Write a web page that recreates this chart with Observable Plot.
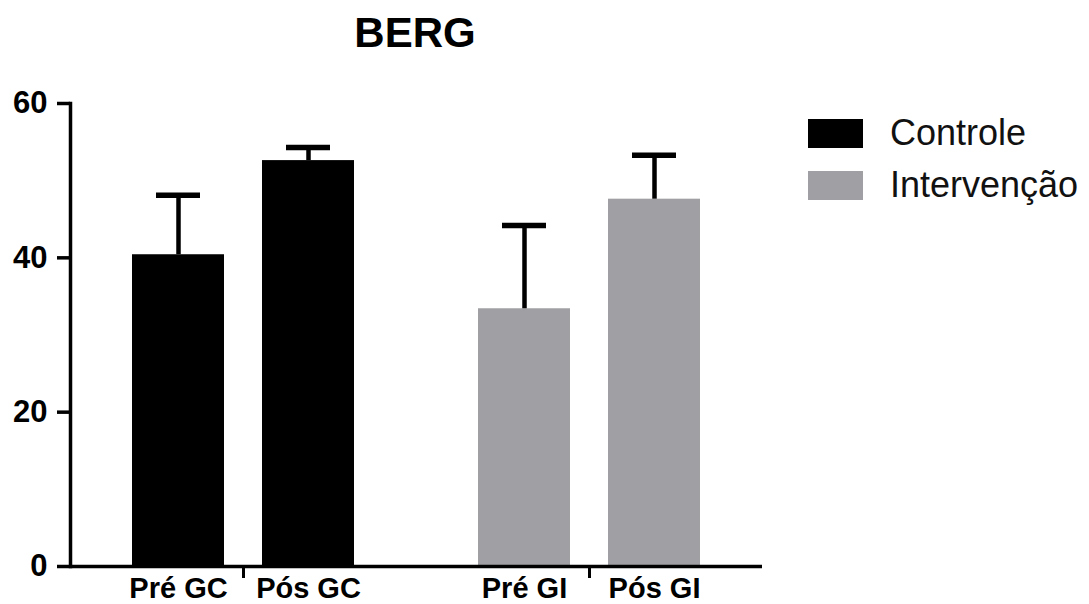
<!DOCTYPE html>
<html><head><meta charset="utf-8">
<script src="https://cdn.jsdelivr.net/npm/d3@7"></script>
<script src="https://cdn.jsdelivr.net/npm/@observablehq/plot@0.6"></script>
<style>
body{margin:0;background:#fff;font-family:"Liberation Sans",Arial,sans-serif;}
#wrap{position:relative;width:1089px;height:604px;overflow:hidden;background:#fff;}
#chart{position:absolute;left:0;top:0;}
#title{position:absolute;left:0;top:12px;width:830px;text-align:center;font-weight:bold;font-size:42px;line-height:42px;color:#000;}
.leg{position:absolute;left:808px;height:36px;display:flex;align-items:center;font-size:36px;line-height:36px;color:#111;}
.sw{width:55px;height:29px;margin-right:27px;}
</style>
</head><body>
<div id="wrap">
  <div id="chart"></div>
  <div id="title"></div>
  <div id="legend"></div>
</div>
<script>
const titleText = "BERG";
const labels = ["Pré GC", "Pós GC", "Pré GI", "Pós GI"];
const groups = ["GC", "GC", "GI", "GI"];
const phases = ["Pré", "Pós", "Pré", "Pós"];
const series = ["Controle", "Controle", "Intervenção", "Intervenção"];
const means = [40.4, 52.6, 33.4, 47.6];
const errors = [7.7, 1.7, 10.8, 5.7];
const yTicks = [0, 20, 40, 60];
const seriesNames = ["Controle", "Intervenção"];
const seriesColors = ["#000000", "#a0a0a4"];

const data = labels.map((label, i) => ({
  label, group: groups[i], phase: phases[i], series: series[i],
  mean: means[i], top: means[i] + errors[i]
}));

const plot = Plot.plot({
  width: 1089, height: 604,
  marginLeft: 69, marginRight: 327, marginTop: 103, marginBottom: 38,
  style: {fontFamily: '"Liberation Sans", Arial, sans-serif', fontSize: "30px", fontWeight: "bold", color: "#000", background: "transparent"},
  fx: {domain: ["GC", "GI"], padding: 0, label: null},
  x: {domain: ["Pré", "Pós"], paddingInner: 0.291, paddingOuter: 0.475, axis: null},
  y: {domain: [0, 60], label: null},
  color: {domain: seriesNames, range: seriesColors},
  marks: [
    Plot.barY(data, {fx: "group", x: "phase", y: "mean", fill: "series"}),
    Plot.ruleX(data, {fx: "group", x: "phase", y1: "mean", y2: "top", stroke: "#000", strokeWidth: 4.5}),
    Plot.tickY(data, {fx: "group", x: "phase", y: "top", stroke: "#000", strokeWidth: 5.5, insetLeft: 24, insetRight: 24}),
    Plot.ruleY([0], {stroke: "#000", strokeWidth: 3.5}),
    Plot.axisY({ticks: yTicks, tickSize: 13, tickPadding: 10, strokeWidth: 3.5, fontSize: 31, fontWeight: "bold", label: null}),
    Plot.frame({anchor: "left", facetAnchor: "left", stroke: "#000", strokeWidth: 3.5}),
    Plot.axisFx({anchor: "bottom", tickSize: 12, strokeWidth: 3, tickFormat: () => "", label: null}),
    Plot.text(data, {fx: "group", x: "phase", y: 0, text: "label", dy: 22, lineAnchor: "middle", fontSize: 29, fontWeight: "bold", fill: "#000"})
  ]
});
document.getElementById("chart").appendChild(plot);
document.getElementById("title").textContent = titleText;

const legend = document.getElementById("legend");
const legTops = [115, 167];
seriesNames.forEach((name, i) => {
  const item = document.createElement("div");
  item.className = "leg";
  item.style.top = legTops[i] + "px";
  const sw = document.createElement("div");
  sw.className = "sw";
  sw.style.background = seriesColors[i];
  const t = document.createElement("span");
  t.textContent = name;
  item.appendChild(sw);
  item.appendChild(t);
  legend.appendChild(item);
});
</script>
</body></html>
